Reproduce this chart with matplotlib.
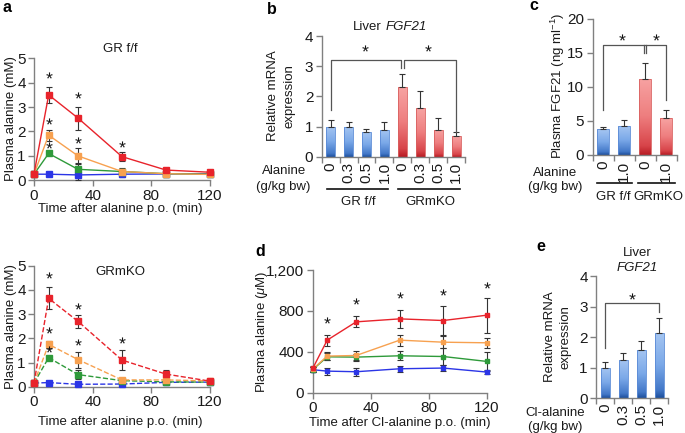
import numpy as np
import matplotlib
matplotlib.use('Agg')
import matplotlib.pyplot as plt
from matplotlib.colors import LinearSegmentedColormap
from matplotlib.ticker import FuncFormatter, FixedLocator
from matplotlib.lines import Line2D

plt.rcParams['font.family'] = ['Liberation Sans', 'DejaVu Sans']
plt.rcParams['mathtext.fontset'] = 'custom'
plt.rcParams['mathtext.rm'] = 'Liberation Sans'
plt.rcParams['mathtext.it'] = 'Liberation Sans:italic'
plt.rcParams['mathtext.bf'] = 'Liberation Sans:bold'

# ---------------- data ----------------
t = [0, 10, 30, 60, 90, 120]

# panel a, GR f/f
a1_red = [0.26, 3.5, 2.55, 0.97, 0.42, 0.33]
a1_red_err = [0.03, 0.33, 0.47, 0.18, 0.1, 0.05]
a1_orange = [0.25, 1.85, 1.0, 0.36, 0.27, 0.24]
a1_orange_err = [0.03, 0.23, 0.33, 0.12, 0.06, 0.05]
a1_green = [0.25, 1.1, 0.45, 0.36, 0.27, 0.25]
a1_green_err = [0.03, 0.06, 0.25, 0.15, 0.15, 0.05]
a1_blue = [0.25, 0.25, 0.22, 0.25, 0.26, 0.27]
a1_blue_err = [0.02, 0.03, 0.2, 0.1, 0.1, 0.03]
a1_star_x = [10, 10, 10, 30, 30, 60]
a1_star_y = [4.3, 2.45, 1.45, 3.5, 1.65, 1.5]

# panel a, GRmKO
a2_red = [0.15, 3.65, 2.7, 1.1, 0.52, 0.23]
a2_red_err = [0.03, 0.45, 0.28, 0.42, 0.17, 0.05]
a2_orange = [0.15, 1.75, 1.12, 0.28, 0.28, 0.24]
a2_orange_err = [0.03, 0.15, 0.33, 0.05, 0.05, 0.04]
a2_green = [0.15, 1.2, 0.5, 0.25, 0.2, 0.19]
a2_green_err = [0.03, 0.05, 0.2, 0.05, 0.04, 0.04]
a2_blue = [0.15, 0.17, 0.1, 0.11, 0.18, 0.19]
a2_blue_err = [0.02, 0.03, 0.03, 0.03, 0.03, 0.03]
a2_star_x = [10, 10, 10, 30, 30, 60]
a2_star_y = [4.6, 2.35, 1.55, 3.35, 1.83, 1.93]

# panel b
b_labels = ['0', '0.3', '0.5', '1.0', '0', '0.3', '0.5', '1.0']
b_grff = [1.0, 1.0, 0.82, 0.9]
b_grff_err = [0.2, 0.16, 0.1, 0.24]
b_grmko = [2.3, 1.62, 0.9, 0.67]
b_grmko_err = [0.45, 0.55, 0.37, 0.15]

# panel c
c_labels = ['0', '1.0', '0', '1.0']
c_grff = [3.8, 4.3]
c_grff_err = [0.35, 0.8]
c_grmko = [11.2, 5.4]
c_grmko_err = [2.3, 1.2]

# panel d
d_red = [237, 514, 693, 722, 706, 758]
d_red_err = [25, 55, 55, 85, 143, 170]
d_orange = [230, 358, 364, 514, 494, 488]
d_orange_err = [25, 40, 40, 55, 60, 50]
d_green = [225, 351, 348, 361, 354, 306]
d_green_err = [25, 35, 35, 45, 80, 90]
d_blue = [225, 211, 205, 234, 241, 202]
d_blue_err = [25, 35, 40, 30, 30, 20]
d_star_x = [10, 30, 60, 90, 120]
d_star_y = [709, 898, 953, 985, 1057]

# panel e
e_labels = ['0', '0.3', '0.5', '1.0']
e_vals = [1.0, 1.25, 1.58, 2.15]
e_err = [0.2, 0.23, 0.3, 0.47]

RED, ORANGE, GREEN, BLUE = '#e8232b', '#f7a150', '#2e9a3a', '#2b35e6'
SPINE = '#808080'
ECOL = '#333333'
STAR = dict(ls='none', marker='$*$', ms=4.5, mew=0, color='#111111', clip_on=False, zorder=5)

W, H = 685, 433
fig = plt.figure(figsize=(W / 100, H / 100), dpi=100)


def ax_px(x0, y0, x1, y1):
    return fig.add_axes([x0 / W, 1 - y1 / H, (x1 - x0) / W, (y1 - y0) / H])


def txt(x, y, s, **kw):
    kw.setdefault('ha', 'center')
    kw.setdefault('va', 'center')
    kw.setdefault('fontsize', 9.5)
    kw.setdefault('color', '#1a1a1a')
    fig.text(x / W, 1 - y / H, s, **kw)


def hline(x0, x1, y, lw=1.2):
    fig.add_artist(Line2D([x0 / W, x1 / W], [1 - y / H, 1 - y / H], color='#111111', lw=lw))


def style(ax):
    for s in ['top', 'right']:
        ax.spines[s].set_visible(False)
    for s in ['left', 'bottom']:
        ax.spines[s].set_color(SPINE)
        ax.spines[s].set_linewidth(1.0)
    ax.tick_params(direction='out', length=4, width=1.0, color=SPINE,
                   labelsize=11, labelcolor='#1a1a1a', pad=2)
    ax.patch.set_alpha(0)


def line_panel(ax, series, ls, stars):
    for mean, err, col in series:
        ax.errorbar(t, mean, yerr=err, color=col, ls=ls, lw=1.0, marker='s', ms=3.8,
                    mec=col, mfc=col, ecolor=ECOL, elinewidth=0.8, capsize=2,
                    capthick=0.8, clip_on=False, zorder=3)
    ax.plot(stars[0], stars[1], **STAR)
    ax.set_xlim(0, 120)
    ax.set_xticks([0, 40, 80, 120])
    style(ax)


# ---------------- panel a ----------------
axa1 = ax_px(34, 58.3, 210, 180.3)
line_panel(axa1, [(a1_blue, a1_blue_err, BLUE), (a1_green, a1_green_err, GREEN),
                  (a1_orange, a1_orange_err, ORANGE), (a1_red, a1_red_err, RED)], '-',
           (a1_star_x, a1_star_y))
axa1.set_ylim(0, 5)
axa1.set_yticks([0, 1, 2, 3, 4, 5])

axa2 = ax_px(34, 265.7, 210, 386.7)
line_panel(axa2, [(a2_blue, a2_blue_err, BLUE), (a2_green, a2_green_err, GREEN),
                  (a2_orange, a2_orange_err, ORANGE), (a2_red, a2_red_err, RED)], '--',
           (a2_star_x, a2_star_y))
axa2.set_ylim(0, 5)
axa2.set_yticks([0, 1, 2, 3, 4, 5])

txt(7, 7, 'a', fontsize=11.5, fontweight='bold', color='k')
txt(120, 49, 'GR f/f')
txt(11, 119, 'Plasma alanine (mM)', rotation=90)
txt(120, 209, 'Time after alanine p.o. (min)')
txt(120, 272, 'GRmKO')
txt(11, 327, 'Plasma alanine (mM)', rotation=90)
txt(120, 422, 'Time after alanine p.o. (min)')

# ---------------- bar helpers ----------------
BLUE_GRAD = [(0, '#1d4f9c'), (0.12, '#4378c8'), (0.5, '#7aa8e8'), (1, '#a6c6f2')]
RED_GRAD = [(0, '#b81c24'), (0.12, '#d8454a'), (0.5, '#ee7d7e'), (1, '#f7a3a2')]


def grad_bars(ax, x, vals, errs, width, grad, edge):
    bars = ax.bar(x, vals, width=width, facecolor='none', edgecolor=edge, lw=0.6, zorder=2)
    cmap = LinearSegmentedColormap.from_list('g', grad)
    g = np.linspace(0, 1, 128).reshape(-1, 1)
    for b in bars:
        x0, y0, w, h = b.get_x(), b.get_y(), b.get_width(), b.get_height()
        im = ax.imshow(g, extent=[x0, x0 + w, y0, y0 + h], origin='lower', cmap=cmap,
                       aspect='auto', zorder=1.5, interpolation='bilinear')
        im.set_clip_path(b)
    ax.errorbar(x, vals, yerr=[np.zeros(len(vals)), errs], fmt='none', ecolor=ECOL,
                elinewidth=0.8, capsize=2, capthick=0.8, zorder=3)


def bar_axes(ax, n, labels):
    ax.set_xlim(-0.5, n - 0.5)
    ax.set_xticks(range(n))
    ax.set_xticklabels(labels, rotation=90)
    ax.xaxis.set_minor_locator(FixedLocator([i + 0.5 for i in range(-1, n)]))
    style(ax)
    ax.tick_params(axis='x', which='major', length=0, pad=4)
    ax.tick_params(axis='x', which='minor', direction='out', length=4, width=1.0, color=SPINE)


def bracket(ax, pts):
    xs, ys = zip(*pts)
    ax.plot(xs, ys, color='#555555', lw=0.9, clip_on=False, zorder=4)


# ---------------- panel b ----------------
axb = ax_px(321.7, 36, 465, 156.7)
grad_bars(axb, [0, 1, 2, 3], b_grff, b_grff_err, 0.5, BLUE_GRAD, '#5a8ad6')
grad_bars(axb, [4, 5, 6, 7], b_grmko, b_grmko_err, 0.5, RED_GRAD, '#d9605f')
bar_axes(axb, 8, b_labels)
axb.set_ylim(0, 4)
axb.set_yticks([0, 1, 2, 3, 4])
bracket(axb, [(0, 1.55), (0, 3.2), (3.93, 3.2), (3.93, 2.95)])
bracket(axb, [(4.07, 2.95), (4.07, 3.2), (7, 3.2), (7, 0.83)])
axb.plot([1.9, 5.45], [3.6, 3.6], **STAR)

txt(272, 9, 'b', fontsize=11.5, fontweight='bold', color='k')
txt(382, 27, 'Liver', ha='right')
txt(386, 27, 'FGF21', ha='left', fontstyle='italic')
txt(273, 96, 'Relative mRNA', rotation=90)
txt(290, 96, 'expression', rotation=90)
txt(284, 171, 'Alanine')
txt(283, 187, '(g/kg bw)')
hline(327, 388, 189)
hline(398, 460, 189)
txt(358, 202, 'GR f/f')
txt(430, 202, 'GRmKO')

# ---------------- panel c ----------------
axc = ax_px(592.5, 19, 676.5, 155)
grad_bars(axc, [0, 1], c_grff, c_grff_err, 0.55, BLUE_GRAD, '#5a8ad6')
grad_bars(axc, [2, 3], c_grmko, c_grmko_err, 0.55, RED_GRAD, '#d9605f')
bar_axes(axc, 4, c_labels)
axc.set_ylim(0, 20)
axc.set_yticks([0, 5, 10, 15, 20])
bracket(axc, [(0, 6.6), (0, 16.2), (3, 16.2), (3, 8.1)])
bracket(axc, [(1.96, 16.2), (1.96, 15.0)])
bracket(axc, [(2.04, 16.2), (2.04, 15.0)])
axc.plot([0.9, 2.52], [17.4, 17.4], **STAR)

txt(534, 6, 'c', fontsize=11.5, fontweight='bold', color='k')
txt(558, 86, 'Plasma FGF21 (ng ml$^{-1}$)', rotation=90)
txt(555, 173, 'Alanine')
txt(555, 187, '(g/kg bw)')
hline(597, 632, 183)
hline(638, 675, 183)
txt(613, 197, 'GR f/f')
txt(658, 197, 'GRmKO')

# ---------------- panel d ----------------
axd = ax_px(312.7, 270, 486.7, 392.7)
for mean, err, col in [(d_blue, d_blue_err, BLUE), (d_green, d_green_err, GREEN),
                       (d_orange, d_orange_err, ORANGE), (d_red, d_red_err, RED)]:
    axd.errorbar(t, mean, yerr=err, color=col, ls='-', lw=1.0, marker='s', ms=3.5,
                 mec=col, mfc=col, ecolor=ECOL, elinewidth=0.8, capsize=2,
                 capthick=0.8, clip_on=False, zorder=3)
axd.plot(d_star_x, d_star_y, **STAR)
axd.set_xlim(0, 120)
axd.set_xticks([0, 40, 80, 120])
axd.set_ylim(0, 1200)
axd.set_yticks([0, 400, 800, 1200])
axd.yaxis.set_major_formatter(FuncFormatter(lambda v, p: f'{int(v):,}'))
style(axd)

txt(260, 251, 'd', fontsize=11.5, fontweight='bold', color='k')
txt(262, 332, 'Plasma alanine ($\\mu$M)', rotation=90)
txt(400, 423, 'Time after Cl-alanine p.o. (min)')

# ---------------- panel e ----------------
axe = ax_px(596, 276, 668, 398.3)
grad_bars(axe, [0, 1, 2, 3], e_vals, e_err, 0.5, BLUE_GRAD, '#5a8ad6')
bar_axes(axe, 4, e_labels)
axe.set_ylim(0, 4)
axe.set_yticks([0, 1, 2, 3, 4])
bracket(axe, [(0, 1.65), (0, 3.12), (3, 3.12), (3, 2.83)])
axe.plot([1.5], [3.35], **STAR)

txt(541, 247, 'e', fontsize=11.5, fontweight='bold', color='k')
txt(637, 253, 'Liver')
txt(637, 268, 'FGF21', fontstyle='italic')
txt(550, 337, 'Relative mRNA', rotation=90)
txt(566, 337, 'expression', rotation=90)
txt(555, 413, 'Cl-alanine')
txt(555, 427, '(g/kg bw)')

fig.savefig('out.png', dpi=100)
